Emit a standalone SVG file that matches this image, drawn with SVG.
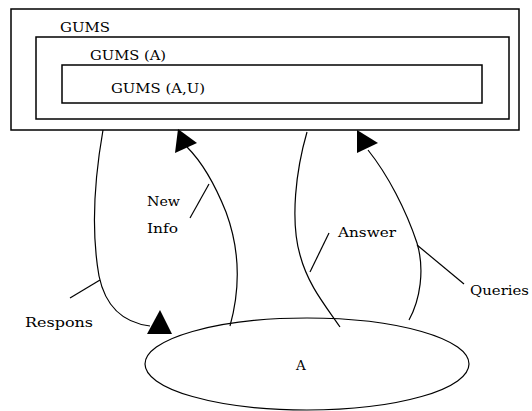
<svg xmlns="http://www.w3.org/2000/svg" width="532" height="411" viewBox="0 0 532 411">
<style>
.box{fill:none;stroke:#000;stroke-width:1.5}
.ln{fill:none;stroke:#000;stroke-width:1.2}
.ah{fill:#000;stroke:none}
text{font-family:"DejaVu Serif","Liberation Serif",serif;font-size:13.5px;fill:#000}
</style>
<rect width="532" height="411" fill="#fff"/>
<g id="gums">
<rect class="box" x="11" y="9" width="508" height="121"/>
<text x="60" y="32" textLength="50" lengthAdjust="spacingAndGlyphs">GUMS</text>
</g>
<g id="gums-a">
<rect class="box" x="36" y="37" width="473" height="82"/>
<text x="90" y="60" textLength="76" lengthAdjust="spacingAndGlyphs">GUMS (A)</text>
</g>
<g id="gums-au">
<rect class="box" x="62" y="65" width="420" height="38"/>
<text x="111" y="93" textLength="94" lengthAdjust="spacingAndGlyphs">GUMS (A,U)</text>
</g>
<g id="a">
<ellipse class="ln" cx="307" cy="364" rx="162" ry="46"/>
<text x="296" y="370">A</text>
</g>
<g id="connectors">
<path class="ln" d="M103,130 C96,170 90,225 99,276 C104,300 118,322 150,326"/>
<polygon class="ah" points="160,310 147,334 172,334"/>
<path class="ln" d="M230,326 C240,290 240,250 226,212 C214,182 200,160 187,147"/>
<polygon class="ah" points="178,129 197,143 175,153"/>
<path class="ln" d="M307,132 C296,170 290,220 300,255 C308,285 325,305 340,327"/>
<path class="ln" d="M409,320 C420,300 425,270 417,243 C406,210 388,175 368,150"/>
<polygon class="ah" points="357,130 378,143 357,153"/>
<path class="ln" d="M100,280 L70,298"/>
<path class="ln" d="M190,218 L209,184"/>
<path class="ln" d="M310,272 L329,233"/>
<path class="ln" d="M417,245 L464,284"/>
</g>
<g id="labels">
<text x="147" y="206" textLength="33" lengthAdjust="spacingAndGlyphs">New</text>
<text x="147" y="233" textLength="31" lengthAdjust="spacingAndGlyphs">Info</text>
<text x="338" y="237" textLength="58" lengthAdjust="spacingAndGlyphs">Answer</text>
<text x="470" y="295" textLength="59" lengthAdjust="spacingAndGlyphs">Queries</text>
<text x="25" y="327" textLength="68" lengthAdjust="spacingAndGlyphs">Respons</text>
</g>
</svg>
